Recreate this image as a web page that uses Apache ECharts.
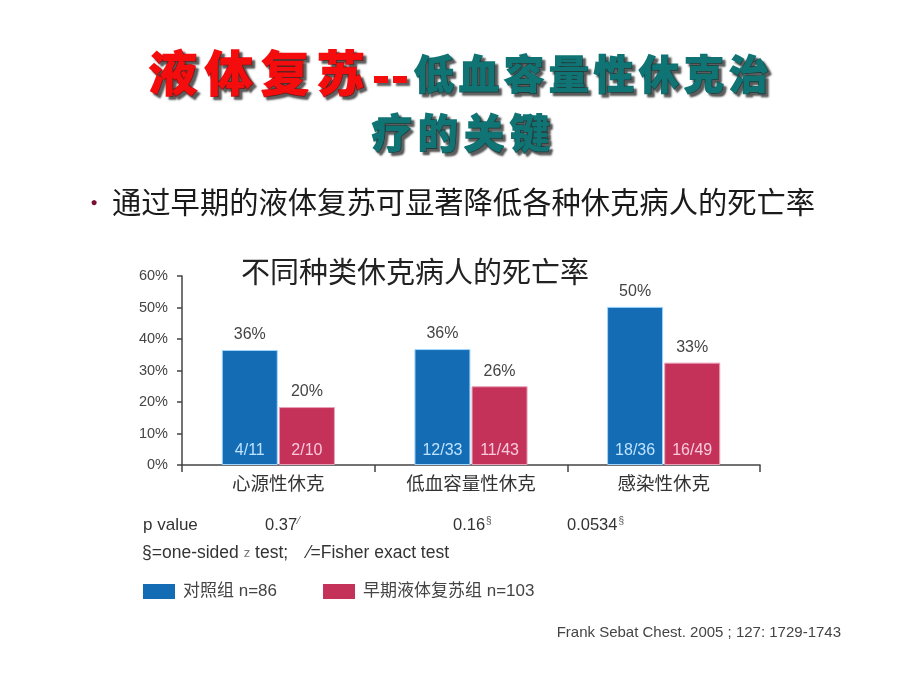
<!DOCTYPE html>
<html><head><meta charset="utf-8">
<script src="https://cdn.jsdelivr.net/npm/echarts@6/dist/echarts.min.js"></script>
<style>html,body{margin:0;padding:0;background:#fff}#c{width:920px;height:690px}</style>
</head><body><div id="c"></div>
<script>
// ---- data ----
const categories = ['心源性休克', '低血容量性休克', '感染性休克'];
const controlValues = [36.5, 36.8, 50.2];        // bar heights (%)
const earlyValues = [18.4, 25.0, 32.5];
const controlPctLabels = ['36%', '36%', '50%'];
const earlyPctLabels = ['20%', '26%', '33%'];
const controlFractions = ['4/11', '12/33', '18/36'];
const earlyFractions = ['2/10', '11/43', '16/49'];
const yTicks = [0, 10, 20, 30, 40, 50, 60];
const seriesNames = ['对照组 n=86', '早期液体复苏组 n=103'];
const pValues = ['0.37', '0.16', '0.0534'];
const pMarks = ['⁄', '§', '§'];
const titleRed = ['液', '体', '复', '苏'];
const titleTeal1 = ['低', '血', '容', '量', '性', '休', '克', '治'];
const titleTeal2 = ['疗', '的', '关', '键'];

const LAT = 'Arial, "Liberation Sans", "Noto Sans CJK SC", sans-serif';
const CJK = '"Noto Sans CJK SC", sans-serif';
const BLUE = '#136cb4', RED = '#c4325a';
const SHADOW = { textShadowColor: 'rgba(40,40,40,0.75)', textShadowBlur: 2, textShadowOffsetX: 3, textShadowOffsetY: 3 };

const chart = echarts.init(document.getElementById('c'));
const graphic = [];
function heavy(ch, x, y, size, color) {
  graphic.push({ type: 'text', silent: true, style: Object.assign({
    text: ch, x: x, y: y, fill: color, stroke: color, lineWidth: 1.6,
    fontSize: size, fontFamily: CJK, fontWeight: 900, align: 'left', verticalAlign: 'middle' }, SHADOW) });
}
titleRed.forEach((c, i) => heavy(c, 149 + i * 56, 73, 48, '#f50d0d'));
// the double dash
[0, 1].forEach(i => graphic.push({ type: 'rect', silent: true,
  shape: { x: 374 + i * 19, y: 76, width: 14, height: 7 },
  style: { fill: '#f50d0d', shadowColor: 'rgba(40,40,40,0.75)', shadowBlur: 2, shadowOffsetX: 3, shadowOffsetY: 3 } }));
titleTeal1.forEach((c, i) => heavy(c, 414 + i * 45, 74, 40, '#107474'));
titleTeal2.forEach((c, i) => heavy(c, 372 + i * 46, 133, 40, '#107474'));

// bullet + subtitle
graphic.push({ type: 'text', silent: true, style: { text: '●', x: 94, y: 203, fill: '#7a1030', fontSize: 12, align: 'center', verticalAlign: 'middle' } });
graphic.push({ type: 'text', silent: true, style: { text: '通过早期的液体复苏可显著降低各种休克病人的死亡率', x: 112, y: 202,
  fill: '#1a1a1a', fontSize: 29.3, fontFamily: CJK, verticalAlign: 'middle' } });
// chart title
graphic.push({ type: 'text', silent: true, style: { text: '不同种类休克病人的死亡率', x: 241, y: 272,
  fill: '#222', fontSize: 29, fontFamily: CJK, verticalAlign: 'middle' } });
// p values
graphic.push({ type: 'text', silent: true, style: { text: 'p value', x: 143, y: 525, fill: '#333', fontSize: 17, fontFamily: LAT, verticalAlign: 'middle' } });
const pX = [265, 453, 567];
pValues.forEach((p, i) => graphic.push({ type: 'text', silent: true, style: {
  text: '{a|' + p + '}{s|' + pMarks[i] + '}', x: pX[i], y: 525, verticalAlign: 'middle',
  rich: { a: { fontSize: 16.5, fill: '#333', fontFamily: LAT }, s: { fontSize: 10, fill: '#555', fontFamily: LAT, verticalAlign: 'top', padding: [0, 0, 8, 1] } } } }));
graphic.push({ type: 'text', silent: true, style: {
  text: '§=one-sided {z|z} test;    ⁄=Fisher exact test', x: 142, y: 553, verticalAlign: 'middle',
  fill: '#333', fontSize: 17.5, fontFamily: LAT, rich: { z: { fontSize: 13, fill: '#777', fontFamily: LAT } } } });
// citation
graphic.push({ type: 'text', silent: true, style: { text: 'Frank Sebat Chest. 2005 ; 127: 1729-1743', x: 841, y: 633,
  fill: '#444', fontSize: 15, fontFamily: LAT, align: 'right', verticalAlign: 'middle' } });

const zeros = categories.map(() => 0);
const option = {
  animation: false,
  backgroundColor: '#fff',
  textStyle: { fontFamily: LAT },
  graphic: graphic,
  legend: {
    data: seriesNames, left: 143, top: 583, padding: 0, icon: 'rect', itemWidth: 32, itemHeight: 15, itemGap: 46,
    itemStyle: { borderWidth: 0 },
    textStyle: { fontSize: 17, color: '#444', fontFamily: LAT, padding: [0, 0, 0, 3] }, selectedMode: false
  },
  grid: { left: 182, top: 276, width: 578, height: 189 },
  xAxis: {
    type: 'category', data: categories,
    axisLine: { lineStyle: { color: '#444', width: 1.5 } },
    axisTick: { show: true, length: 7, lineStyle: { color: '#444', width: 1.5 } },
    axisLabel: { fontSize: 18.5, color: '#333', margin: 11, fontFamily: LAT }
  },
  yAxis: {
    type: 'value', min: yTicks[0], max: yTicks[yTicks.length - 1], interval: yTicks[1] - yTicks[0],
    axisLine: { show: true, lineStyle: { color: '#444', width: 1.5 } },
    axisTick: { show: true, length: 5, lineStyle: { color: '#444', width: 1.5 } },
    splitLine: { show: false },
    axisLabel: { formatter: '{value}%', fontSize: 14.5, color: '#444', margin: 14, fontFamily: LAT }
  },
  series: [
    { name: seriesNames[0], type: 'bar', stack: 'c', data: controlValues, barWidth: 56, barGap: '2%',
      itemStyle: { color: BLUE, borderColor: '#9fd6ff', borderWidth: 1 },
      label: { show: true, position: 'insideBottom', distance: 6, color: '#bfe3ff', fontSize: 16,
        formatter: p => controlFractions[p.dataIndex] } },
    { name: 'c_top', type: 'bar', stack: 'c', data: zeros, barWidth: 56,
      itemStyle: { color: 'rgba(0,0,0,0)' },
      label: { show: true, position: 'top', distance: 7, color: '#444', fontSize: 16,
        formatter: p => controlPctLabels[p.dataIndex] } },
    { name: seriesNames[1], type: 'bar', stack: 'e', data: earlyValues, barWidth: 56,
      itemStyle: { color: RED, borderColor: '#e8a0b8', borderWidth: 1 },
      label: { show: true, position: 'insideBottom', distance: 6, color: '#f9cadb', fontSize: 16,
        formatter: p => earlyFractions[p.dataIndex] } },
    { name: 'e_top', type: 'bar', stack: 'e', data: zeros, barWidth: 56,
      itemStyle: { color: 'rgba(0,0,0,0)' },
      label: { show: true, position: 'top', distance: 7, color: '#444', fontSize: 16,
        formatter: p => earlyPctLabels[p.dataIndex] } }
  ]
};
chart.setOption(option);
</script></body></html>
